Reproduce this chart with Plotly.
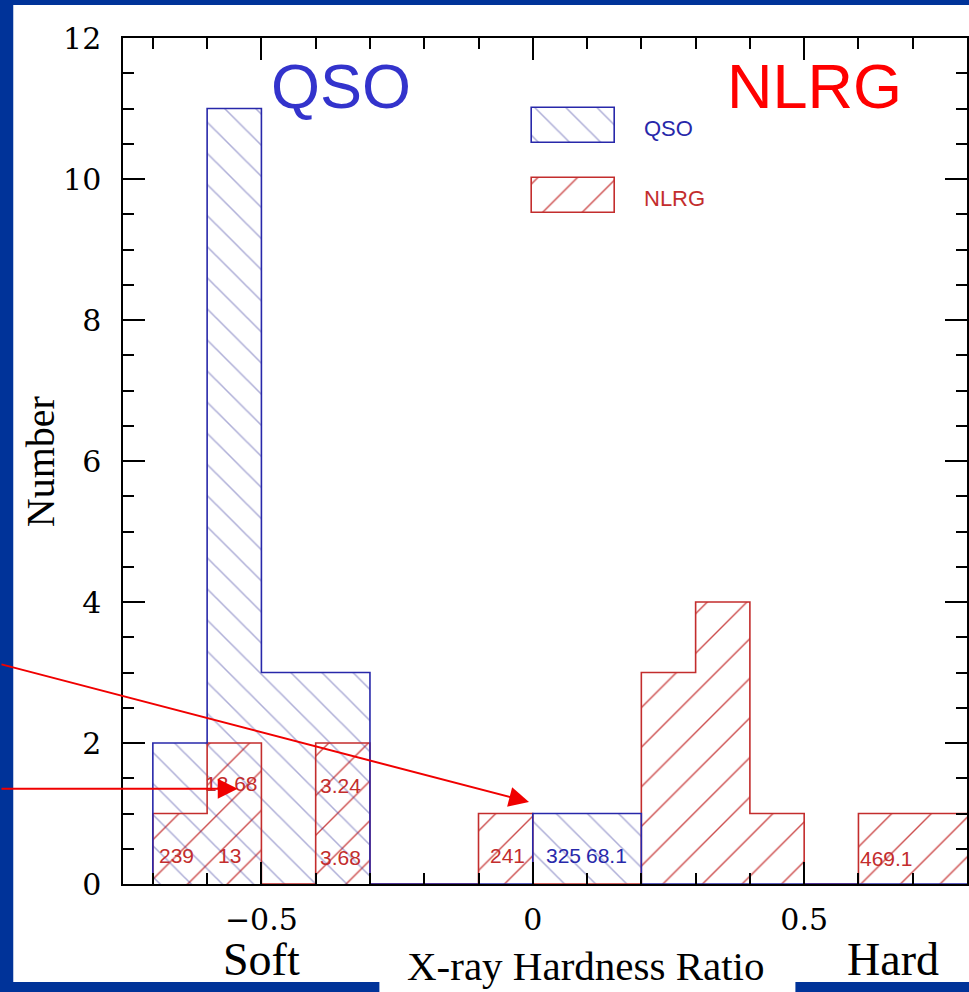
import plotly.graph_objects as go

# ---------------- data ----------------
bin_edges = [-0.7, -0.6, -0.5, -0.4, -0.3, -0.2, -0.1, 0.0, 0.1, 0.2, 0.3, 0.4, 0.5, 0.6, 0.7, 0.8]
qso_counts = [2, 11, 3, 3, 0, 0, 0, 1, 1, 0, 0, 0, 0, 0, 0]
nlrg_counts = [1, 2, 0, 2, 0, 0, 1, 0, 0, 3, 4, 1, 0, 1, 1]

xtick_vals = [-0.5, 0, 0.5]
xtick_text = ["\u22120.5", "0", "0.5"]
ytick_vals = [0, 2, 4, 6, 8, 10, 12]

label_text = ["239", "13", "13.68", "3.24", "3.68", "241", "325", "68.1", "469.1"]
label_x = [-0.657, -0.558, -0.556, -0.354, -0.354, -0.047, 0.057, 0.136, 0.651]
label_y = [0.41, 0.41, 1.43, 1.40, 0.38, 0.41, 0.41, 0.41, 0.36]
label_series = ["NLRG", "NLRG", "NLRG", "NLRG", "NLRG", "NLRG", "QSO", "QSO", "NLRG"]

# ---------------- styles ----------------
W, H = 969, 992
L, T, R_EDGE, B = 123, 38, 969, 884          # plot area in pixels
BORDER = "#003399"
QSO_LINE = "rgb(40,40,170)"
NLRG_LINE = "rgb(195,45,45)"
QSO_BIG = "rgb(51,51,204)"
NLRG_BIG = "rgb(255,0,0)"
ARROW = "rgb(240,0,0)"
QSO_PAT = dict(shape="\\", fgcolor="rgba(40,40,150,0.38)", bgcolor="rgba(0,0,0,0)",
               size=22, solidity=0.07, fillmode="replace")
NLRG_PAT = dict(shape="/", fgcolor="rgba(195,45,45,0.85)", bgcolor="rgba(0,0,0,0)",
                size=28, solidity=0.05, fillmode="replace")

def px(xp):
    return (xp - L) / (R_EDGE - L)

def py(yp):
    return (B - yp) / (B - T)

centers = [(a + b) / 2 for a, b in zip(bin_edges[:-1], bin_edges[1:])]
widths = [b - a for a, b in zip(bin_edges[:-1], bin_edges[1:])]

fig = go.Figure()

# patterned fills
fig.add_trace(go.Bar(
    x=centers, y=nlrg_counts, width=widths,
    marker=dict(color="rgba(0,0,0,0)", line=dict(width=0), pattern=NLRG_PAT),
    showlegend=False, hoverinfo="skip"))
fig.add_trace(go.Bar(
    x=centers, y=qso_counts, width=widths,
    marker=dict(color="rgba(0,0,0,0)", line=dict(width=0), pattern=QSO_PAT),
    showlegend=False, hoverinfo="skip"))

# step outlines
def step_xy(counts):
    xs = [bin_edges[0]] + bin_edges
    ys = [0] + counts + [counts[-1]]
    return xs, ys

nx, ny = step_xy(nlrg_counts)
fig.add_trace(go.Scatter(x=nx, y=ny, mode="lines", line=dict(color=NLRG_LINE, width=1.6, shape="hv"),
                         showlegend=False, hoverinfo="skip", cliponaxis=True))
qx, qy = step_xy(qso_counts)
fig.add_trace(go.Scatter(x=qx, y=qy, mode="lines", line=dict(color=QSO_LINE, width=1.6, shape="hv"),
                         showlegend=False, hoverinfo="skip", cliponaxis=True))

# legend swatches on a pixel-unit auxiliary axis
fig.add_trace(go.Bar(
    x=[574.5], y=[35], base=[108], width=[83], xaxis="x2", yaxis="y2",
    marker=dict(color="rgba(0,0,0,0)", line=dict(color=QSO_LINE, width=1.6), pattern=QSO_PAT),
    showlegend=False, hoverinfo="skip"))
fig.add_trace(go.Bar(
    x=[574.5], y=[35], base=[178], width=[83], xaxis="x2", yaxis="y2",
    marker=dict(color="rgba(0,0,0,0)", line=dict(color=NLRG_LINE, width=1.6), pattern=NLRG_PAT),
    showlegend=False, hoverinfo="skip"))

annotations = []
for t, x, y, s in zip(label_text, label_x, label_y, label_series):
    annotations.append(dict(x=x, y=y, xref="x", yref="y", text=t, showarrow=False,
                            font=dict(family="Liberation Sans", size=21,
                                      color=QSO_LINE if s == "QSO" else NLRG_LINE)))

def ptext(x, y, text, size, color, family="Liberation Sans", angle=0):
    return dict(x=px(x), y=py(y), xref="paper", yref="paper", text=text, showarrow=False,
                xanchor="center", yanchor="middle", textangle=angle,
                font=dict(family=family, size=size, color=color))

annotations += [
    ptext(342, 86, "QSO", 63, QSO_BIG),
    ptext(816, 86, "NLRG", 63, NLRG_BIG),
    ptext(670, 128, "QSO", 22, QSO_LINE),
    ptext(676, 198, "NLRG", 22, NLRG_LINE),
    ptext(40, 462, "Number", 40, "black", family="Liberation Serif", angle=-90),
    ptext(262, 960, "Soft", 46, "black", family="Liberation Serif"),
    ptext(587, 966, "X-ray Hardness Ratio", 41, "black", family="Liberation Serif"),
    ptext(895, 960, "Hard", 46, "black", family="Liberation Serif"),
]

# arrows
annotations += [
    dict(x=-0.5436, y=1.35, xref="x", yref="y", ax=-238, ay=0, axref="pixel", ayref="pixel",
         text="", showarrow=True, arrowhead=2, arrowsize=2, arrowwidth=2, arrowcolor=ARROW),
    dict(x=-0.007, y=1.163, xref="x", yref="y", ax=-530, ay=-138, axref="pixel", ayref="pixel",
         text="", showarrow=True, arrowhead=2, arrowsize=2, arrowwidth=2, arrowcolor=ARROW),
]

shapes = [
    dict(type="rect", xref="paper", yref="paper", x0=px(13), x1=px(975), y0=py(982), y1=py(5),
         fillcolor="white", line=dict(width=0), layer="below"),
    dict(type="rect", xref="paper", yref="paper", x0=px(380), x1=px(797), y0=py(1000), y1=py(980),
         fillcolor="white", line=dict(width=0), layer="below"),
]

axis_common = dict(showline=True, linecolor="black", linewidth=1.5, mirror="ticks",
                   ticks="inside", tickcolor="black", tickwidth=1.5, ticklen=22,
                   showgrid=False, zeroline=False,
                   tickfont=dict(family="DejaVu Serif", size=30, color="black"))

fig.update_layout(
    width=W, height=H,
    margin=dict(l=L, r=W - R_EDGE, t=T, b=H - B, pad=0),
    paper_bgcolor=BORDER, plot_bgcolor="rgba(0,0,0,0)",
    barmode="overlay", bargap=0,
    showlegend=False,
    xaxis=dict(range=[-0.755, 0.8], tickvals=xtick_vals, ticktext=xtick_text,
               minor=dict(dtick=0.1, tick0=0, ticklen=11, ticks="inside", tickcolor="black", tickwidth=1.5),
               ticklabelstandoff=8, **axis_common),
    yaxis=dict(range=[0, 12], tickvals=ytick_vals,
               minor=dict(dtick=0.5, tick0=0, ticklen=11, ticks="inside", tickcolor="black", tickwidth=1.5),
               ticklabelstandoff=14, **axis_common),
    xaxis2=dict(range=[L, R_EDGE], overlaying="x", anchor="y2", visible=False, showgrid=False, zeroline=False),
    yaxis2=dict(range=[B, T], overlaying="y", anchor="x2", visible=False, showgrid=False, zeroline=False),
    annotations=annotations,
    shapes=shapes,
)

fig.write_html("out.html")
